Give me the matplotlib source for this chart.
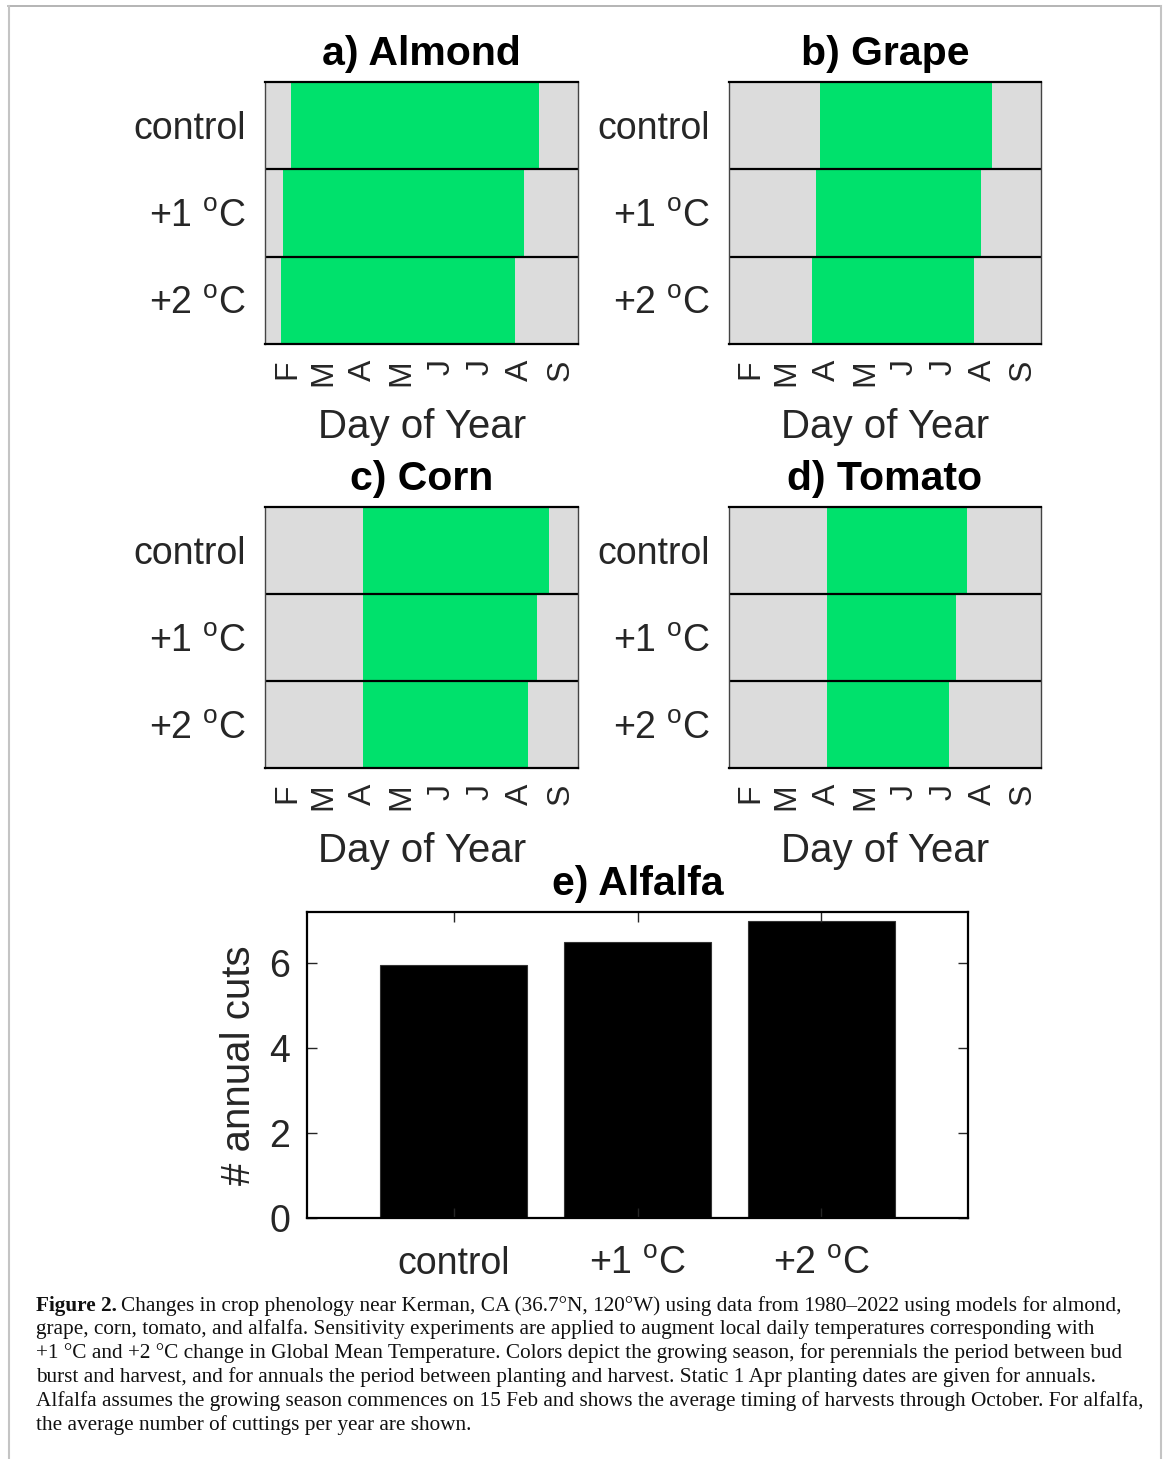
import numpy as np
import matplotlib.pyplot as plt
from matplotlib.lines import Line2D

plt.rcParams['font.family'] = ['Liberation Sans', 'DejaVu Sans']
plt.rcParams['mathtext.fontset'] = 'custom'
plt.rcParams['mathtext.rm'] = 'Liberation Sans'

# scenarios and month ticks (day of year, first of month)
scenarios = ['control', r'+1 $^{\mathrm{o}}$C', r'+2 $^{\mathrm{o}}$C']
month_labels = ['F', 'M', 'A', 'M', 'J', 'J', 'A', 'S']
month_doy = [32, 60, 91, 121, 152, 182, 213, 244]

# growing season start / end (day of year)
almond_start = [35, 29, 27.5]
almond_end = [227.5, 216, 208.5]
grape_start = [86, 83, 80]
grape_end = [220, 211, 205.5]
corn_start = [91, 91, 91]
corn_end = [235, 226, 219]
tomato_start = [91, 91, 91]
tomato_end = [200, 192, 186]

# alfalfa cuttings per year
alfalfa_cuts = [5.95, 6.5, 7.0]

green = '#00e16c'
bg = '#dcdcdc'
txt = '#262626'

W, H = 1168, 1459
fig = plt.figure(figsize=(W / 100, H / 100), dpi=100)


def px_axes(x0, y0, x1, y1):
    return fig.add_axes([x0 / W, 1 - y1 / H, (x1 - x0) / W, (y1 - y0) / H])


def phen_panel(rect, title, start, end):
    ax = px_axes(*rect)
    ax.set_facecolor(bg)
    y = np.arange(len(scenarios))
    ax.barh(y, np.array(end) - np.array(start), left=start, height=1.0,
            color=green, linewidth=0)
    ax.set_xlim(15, 258)
    ax.set_ylim(2.5, -0.5)
    for b in [0.5, 1.5]:
        ax.axhline(b, color='k', lw=1.6)
    ax.set_yticks(y)
    ax.set_yticklabels(scenarios, fontsize=27, color=txt)
    ax.set_xticks(month_doy)
    ax.set_xticklabels(month_labels, rotation=90, fontsize=23, color=txt)
    ax.tick_params(axis='y', length=0, pad=14)
    ax.tick_params(axis='x', length=0, pad=11)
    ax.set_xlabel('Day of Year', fontsize=29, color=txt, labelpad=16)
    ax.set_title(title, fontsize=29.5, fontweight='bold', pad=12)
    for s in ['top', 'bottom']:
        ax.spines[s].set_linewidth(1.6)
        ax.spines[s].set_color('k')
    for s in ['left', 'right']:
        ax.spines[s].set_linewidth(1.0)
        ax.spines[s].set_color('#444444')
    return ax


phen_panel((265.3, 81.7, 578.3, 344), 'a) Almond', almond_start, almond_end)
phen_panel((729, 81.7, 1041, 344), 'b) Grape', grape_start, grape_end)
phen_panel((265.3, 506.7, 578.3, 768.3), 'c) Corn', corn_start, corn_end)
phen_panel((729, 506.7, 1041, 768.3), 'd) Tomato', tomato_start, tomato_end)

# alfalfa bar chart
ax = px_axes(307, 912, 968, 1218)
xpos = np.arange(1, len(alfalfa_cuts) + 1)
ax.bar(xpos, alfalfa_cuts, width=0.8, color='k', edgecolor='#333333', linewidth=0.8)
ax.set_xlim(0.2, 3.8)
ax.set_ylim(0, 7.2)
ax.set_yticks([0, 2, 4, 6])
ax.set_xticks(xpos)
ax.set_xticklabels(scenarios)
ax.tick_params(direction='in', top=True, right=True, length=7, width=1,
               color=txt, labelcolor=txt, labelsize=27)
ax.tick_params(axis='x', pad=20)
ax.tick_params(axis='y', pad=12)
ax.set_ylabel('# annual cuts', fontsize=29, color=txt, labelpad=8)
ax.set_title('e) Alfalfa', fontsize=29.5, fontweight='bold', pad=12)
for s in ax.spines.values():
    s.set_linewidth(1.6)
    s.set_color('k')

# caption
cap_font = dict(family='Liberation Serif', fontsize=15.3, color='#111111')
cap_lines = [
    "Changes in crop phenology near Kerman, CA (36.7\u00b0N, 120\u00b0W) using data from 1980\u20132022 using models for almond,",
    "grape, corn, tomato, and alfalfa. Sensitivity experiments are applied to augment local daily temperatures corresponding with",
    "+1 \u00b0C and +2 \u00b0C change in Global Mean Temperature. Colors depict the growing season, for perennials the period between bud",
    "burst and harvest, and for annuals the period between planting and harvest. Static 1 Apr planting dates are given for annuals.",
    "Alfalfa assumes the growing season commences on 15 Feb and shows the average timing of harvests through October. For alfalfa,",
    "the average number of cuttings per year are shown.",
]
cap_y = [1306, 1329.5, 1353, 1377, 1401, 1425]
lbl = fig.text(36 / W, 1 - cap_y[0] / H, 'Figure 2.', fontweight='bold',
               va='center', ha='left', **cap_font)
fig.canvas.draw()
bb = lbl.get_window_extent()
fig.text((bb.x1 + 4) / W, 1 - cap_y[0] / H, cap_lines[0], va='center', ha='left', **cap_font)
for line, yy in zip(cap_lines[1:], cap_y[1:]):
    fig.text(36 / W, 1 - yy / H, line, va='center', ha='left', **cap_font)

# page frame
fig.add_artist(Line2D([8 / W, 1161 / W], [1 - 6 / H, 1 - 6 / H], color='#a8a8a8', lw=1.2))
fig.add_artist(Line2D([8.5 / W, 8.5 / W], [1 - 6 / H, 0], color='#c4c4c4', lw=1.5))
fig.add_artist(Line2D([1161 / W, 1161 / W], [1 - 6 / H, 0], color='#c4c4c4', lw=1.5))

fig.savefig('out.png', dpi=100)
